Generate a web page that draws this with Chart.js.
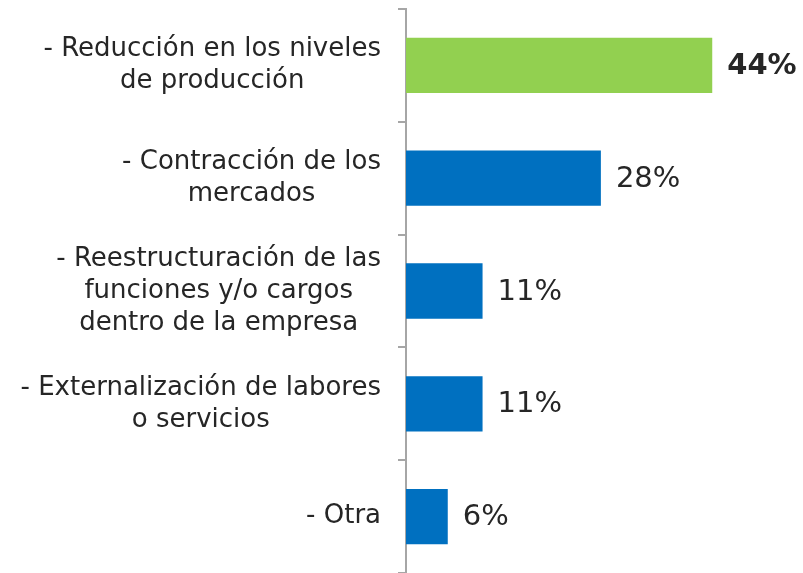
<!DOCTYPE html>
<html>
<head>
<meta charset="utf-8">
<script src="https://cdn.jsdelivr.net/npm/chart.js@4.4.0/dist/chart.umd.min.js"></script>
<style>
  html, body { margin: 0; padding: 0; background: #fff; }
  #wrap { width: 803px; height: 573px; }
</style>
</head>
<body>
<div id="wrap"><canvas id="chart"></canvas></div>
<script>
const categories = [
  ["- Reducción en los niveles", "de producción"],
  ["- Contracción de los", "mercados"],
  ["- Reestructuración de las", "funciones y/o cargos", "dentro de la empresa"],
  ["- Externalización de labores", "o servicios"],
  ["- Otra"]
];
const values = [44, 28, 11, 11, 6];
const barColors = ["#92D050", "#0070C0", "#0070C0", "#0070C0", "#0070C0"];
const boldLabel = [true, false, false, false, false];

const FONT = "'DejaVu Sans', sans-serif";
const TEXT = "#262626";

// etiquetas del eje y (centradas por bloque, alineadas a la derecha)
const catLabels = {
  id: "catLabels",
  afterDraw(chart) {
    const ctx = chart.ctx;
    const y = chart.scales.y;
    const right = chart.chartArea.left - 25;
    const lh = 32;
    ctx.save();
    ctx.font = "26px " + FONT;
    ctx.fillStyle = TEXT;
    ctx.textAlign = "center";
    ctx.textBaseline = "middle";
    categories.forEach((lines, i) => {
      const w = Math.max(...lines.map(l => ctx.measureText(l).width));
      const cx = right - w / 2;
      const cy = y.getPixelForValue(i);
      lines.forEach((l, j) => {
        ctx.fillText(l, cx, cy + (j - (lines.length - 1) / 2) * lh);
      });
    });
    ctx.restore();
  }
};

// valores al final de cada barra
const valueLabels = {
  id: "valueLabels",
  afterDatasetsDraw(chart) {
    const ctx = chart.ctx;
    const meta = chart.getDatasetMeta(0);
    ctx.save();
    ctx.fillStyle = TEXT;
    ctx.textAlign = "left";
    ctx.textBaseline = "middle";
    meta.data.forEach((bar, i) => {
      ctx.font = (boldLabel[i] ? "bold " : "") + "29px " + FONT;
      ctx.fillText(values[i] + "%", bar.x + 15, bar.y + 1);
    });
    ctx.restore();
  }
};

new Chart(document.getElementById("chart"), {
  type: "bar",
  data: {
    labels: categories,
    datasets: [{
      data: values,
      backgroundColor: barColors,
      borderWidth: 0,
      barPercentage: 0.49,
      categoryPercentage: 1
    }]
  },
  options: {
    indexAxis: "y",
    responsive: true,
    maintainAspectRatio: false,
    animation: false,
    layout: { padding: { top: 9, right: 49, bottom: 0, left: 0 } },
    plugins: { legend: { display: false }, tooltip: { enabled: false } },
    scales: {
      x: { display: false, min: 0, max: 50 },
      y: {
        afterFit(scale) { scale.width = 406; },
        ticks: { display: false },
        grid: {
          drawOnChartArea: false,
          tickLength: 8,
          color: "#A6A6A6",
          lineWidth: 2
        },
        border: { display: true, color: "#A6A6A6", width: 2 }
      }
    }
  },
  plugins: [catLabels, valueLabels]
});
</script>
</body>
</html>
